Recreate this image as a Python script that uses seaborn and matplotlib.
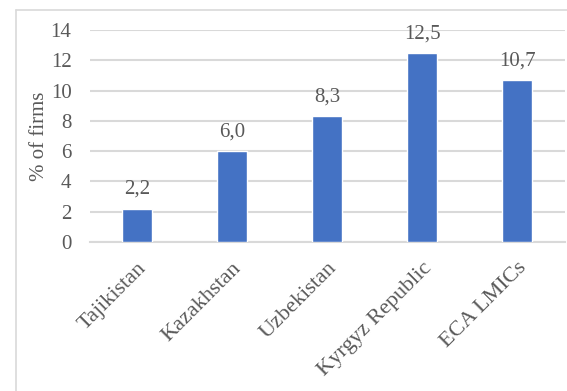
import matplotlib
matplotlib.use("Agg")
import matplotlib.pyplot as plt
import seaborn as sns
import pandas as pd
from matplotlib.lines import Line2D

countries = ["Tajikistan", "Kazakhstan", "Uzbekistan", "Kyrgyz Republic", "ECA LMICs"]
shares = [2.2, 6.0, 8.3, 12.5, 10.7]
y_ticks = [0, 2, 4, 6, 8, 10, 12, 14]

sns.set_theme(style="white")
plt.rcParams["font.family"] = ["Liberation Serif", "DejaVu Serif"]
text_color = "#595959"
grid_color = "#D9D9D9"
fs = 15

df = pd.DataFrame({"country": countries, "share": shares})

fig = plt.figure(figsize=(5.67, 3.91), dpi=100)
ax = fig.add_axes([0.158, 0.381, 0.838, 0.542])

sns.barplot(data=df, x="country", y="share", color="#4472C4", width=0.316,
            saturation=1, ax=ax, zorder=3)

ax.set_ylim(0, 14)
ax.set_yticks(y_ticks)
ax.set_yticklabels([str(t) for t in y_ticks], fontsize=fs, color=text_color)
ax.yaxis.grid(True, color=grid_color, linewidth=1.5, zorder=0)
ax.set_axisbelow(True)
for side in ["top", "right", "left"]:
    ax.spines[side].set_visible(False)
ax.spines["bottom"].set_color(grid_color)
ax.spines["bottom"].set_linewidth(1.5)
ax.tick_params(axis="y", length=0, pad=13)
ax.tick_params(axis="x", length=0, pad=12)

ax.set_xlabel("")
ax.set_ylabel("% of firms", fontsize=fs, color=text_color, labelpad=1)
ax.set_xticks(range(len(countries)))
ax.set_xticklabels(countries, rotation=45, ha="right", rotation_mode="anchor",
                   fontsize=16, color=text_color)

ax.bar_label(ax.containers[0], labels=[f"{v:.1f}".replace(".", ",") for v in shares],
             padding=7, fontsize=fs, color=text_color)

# chart-area frame on the left and top
fig.add_artist(Line2D([16 / 567, 16 / 567], [0, 1 - 10 / 391], transform=fig.transFigure,
                      color=grid_color, linewidth=1.2))
fig.add_artist(Line2D([16 / 567, 1], [1 - 10 / 391, 1 - 10 / 391], transform=fig.transFigure,
                      color=grid_color, linewidth=1.2))

fig.savefig("out.png", dpi=100)
